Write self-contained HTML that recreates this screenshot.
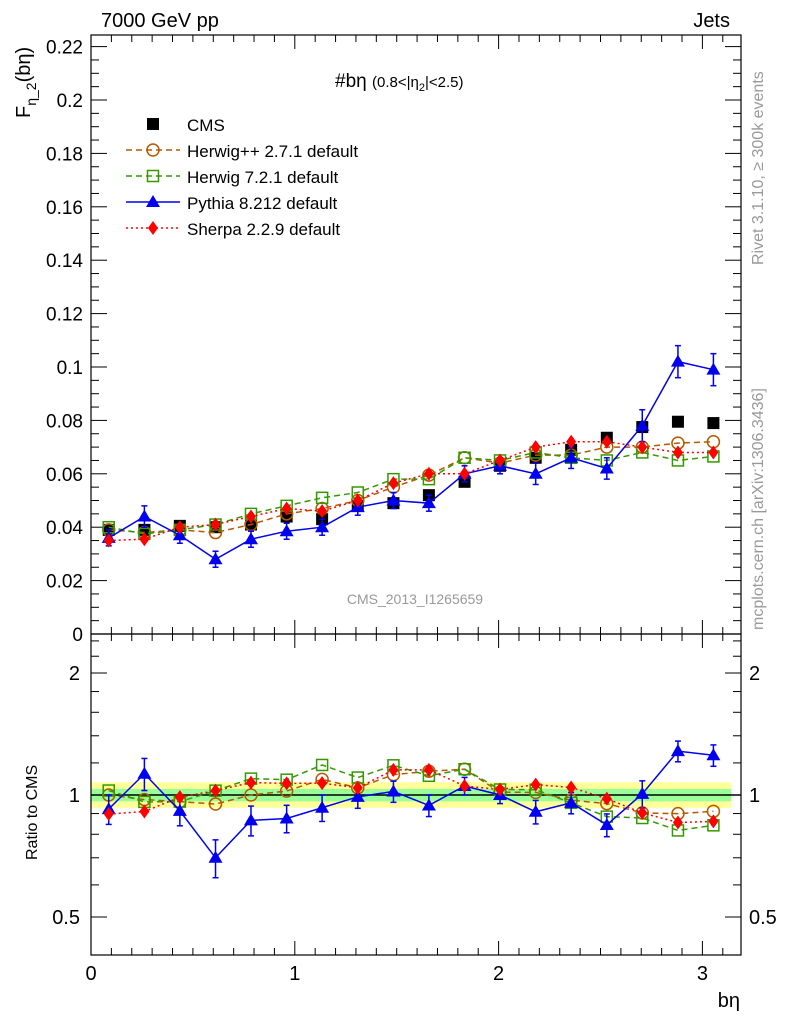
<!DOCTYPE html>
<html><head><meta charset="utf-8"><style>
body{margin:0;background:#fff;}
svg text{font-family:"Liberation Sans",sans-serif;}
</style></head><body>
<svg id="c" width="786" height="1024" xmlns="http://www.w3.org/2000/svg"></svg>
<script>
const binCenters=[0.087,0.262,0.436,0.611,0.785,0.960,1.134,1.309,1.484,1.658,1.833,2.007,2.182,2.356,2.531,2.705,2.880,3.054];
const cmsVals=[0.039,0.039,0.0405,0.040,0.041,0.044,0.043,0.048,0.049,0.052,0.057,0.063,0.066,0.069,0.0735,0.0775,0.0795,0.079];
const herwigppVals=[0.039,0.038,0.039,0.038,0.041,0.045,0.047,0.050,0.055,0.0595,0.066,0.064,0.067,0.067,0.070,0.070,0.0715,0.072];
const herwig7Vals=[0.040,0.0375,0.039,0.041,0.045,0.048,0.051,0.053,0.058,0.058,0.066,0.065,0.068,0.066,0.065,0.068,0.065,0.0665];
const pythiaVals=[0.036,0.044,0.037,0.028,0.0355,0.0385,0.040,0.0475,0.050,0.049,0.060,0.063,0.060,0.066,0.062,0.078,0.102,0.099];
const pythiaErr=[0.003,0.004,0.003,0.003,0.003,0.003,0.003,0.003,0.003,0.003,0.003,0.003,0.004,0.004,0.004,0.006,0.006,0.006];
const sherpaVals=[0.035,0.0355,0.040,0.041,0.044,0.047,0.046,0.050,0.0565,0.060,0.060,0.065,0.070,0.072,0.072,0.070,0.068,0.068];
const yTicks=[0,0.02,0.04,0.06,0.08,0.1,0.12,0.14,0.16,0.18,0.2,0.22];
const yTickLabels=["0","0.02","0.04","0.06","0.08","0.1","0.12","0.14","0.16","0.18","0.2","0.22"];
const xTicks=[0,1,2,3];
const rTicks=[0.5,1,2];
const rTickLabels=["0.5","1","2"];

const S=document.getElementById('c'),NS="http://www.w3.org/2000/svg";
function el(t,a,p){const e=document.createElementNS(NS,t);for(const k in a)e.setAttribute(k,a[k]);(p||S).appendChild(e);return e;}
const L=91,R=741,T=35,M=634,B=955;
const X=v=>L+v*203.8;
const Y=v=>634-v*2670;
const RY=v=>795-Math.log2(v)*122;
const W=0.1745;

// band
let bg=el('rect',{x:X(0),y:RY(1.075),width:X(3.142)-X(0),height:RY(0.93)-RY(1.075),fill:'#ffff99'});

let gg=el('rect',{x:X(0),y:RY(1.035),width:X(3.142)-X(0),height:RY(0.965)-RY(1.035),fill:'#99ff99'});

let one=el('line',{x1:L,x2:R,y1:RY(1),y2:RY(1),stroke:'#000','stroke-width':1.5});


// frames
for(const [y1,y2,n] of [[T,M,'main-frame'],[M,B,'ratio-frame']]){
 const f=el('rect',{x:L,y:y1,width:R-L,height:y2-y1,fill:'none',stroke:'#000','stroke-width':1.2});
 
}
// x ticks
for(let v=0;v<=3.14;v+=0.1){
 const major=Math.abs(v-Math.round(v))<1e-6;const l=major?14:7;
 for(const [y1,y2] of [[T,M],[M,B]]){
  el('line',{x1:X(v),x2:X(v),y1:y2,y2:y2-l,stroke:'#000'});
  el('line',{x1:X(v),x2:X(v),y1:y1,y2:y1+l,stroke:'#000'});
 }
}
xTicks.forEach(v=>{const t=el('text',{x:X(v),y:980,'font-size':20,'text-anchor':'middle'});t.textContent=v;
});
// y ticks main
for(let v=0;v<=0.2235;v+=0.005){
 const major=Math.abs(v/0.02-Math.round(v/0.02))<1e-6;const l=major?16:8;
 el('line',{x1:L,x2:L+l,y1:Y(v),y2:Y(v),stroke:'#000'});
 el('line',{x1:R,x2:R-l,y1:Y(v),y2:Y(v),stroke:'#000'});
}
yTicks.forEach((v,i)=>{const t=el('text',{x:83,y:Y(v)+7,'font-size':19,'text-anchor':'end'});t.textContent=yTickLabels[i];
});
// ratio ticks
[0.5,0.6,0.7,0.8,0.9,1,1.2,1.4,1.6,1.8,2,2.2,2.4].forEach(v=>{
 const major=rTicks.includes(v);const l=major?16:8;
 el('line',{x1:L,x2:L+l,y1:RY(v),y2:RY(v),stroke:'#000'});
 el('line',{x1:R,x2:R-l,y1:RY(v),y2:RY(v),stroke:'#000'});
});
rTicks.forEach((v,i)=>{
 const t=el('text',{x:80,y:RY(v)+7,'font-size':20,'text-anchor':'end'});t.textContent=rTickLabels[i];
 
 const t2=el('text',{x:749,y:RY(v)+7,'font-size':20});t2.textContent=rTickLabels[i];
 
});

function marker(type,x,y,col,g){
 if(type==='sq')el('rect',{x:x-6,y:y-6,width:12,height:12,fill:col},g);
 else if(type==='osq')el('rect',{x:x-5.5,y:y-5.5,width:11,height:11,fill:'none',stroke:col,'stroke-width':1.5},g);
 else if(type==='oc')el('circle',{cx:x,cy:y,r:6,fill:'none',stroke:col,'stroke-width':1.5},g);
 else if(type==='tri')el('polygon',{points:`${x},${y-7} ${x-7},${y+5} ${x+7},${y+5}`,fill:col},g);
 else if(type==='dia')el('polygon',{points:`${x},${y-7} ${x-5},${y} ${x},${y+7} ${x+5},${y}`,fill:col},g);
}
const series=[
 {name:'herwigpp',vals:herwigppVals,col:'#b35900',m:'oc',dash:'6,4',label:'Herwig++ 2.7.1 default'},
 {name:'herwig7',vals:herwig7Vals,col:'#339900',m:'osq',dash:'6,4',label:'Herwig 7.2.1 default'},
 {name:'pythia',vals:pythiaVals,col:'#0000ee',m:'tri',dash:'',label:'Pythia 8.212 default',err:pythiaErr},
 {name:'sherpa',vals:sherpaVals,col:'#ff0000',m:'dia',dash:'2,3',label:'Sherpa 2.2.9 default'}
];
// CMS main
const cg=el('g',{});
cmsVals.forEach((v,i)=>marker('sq',X(binCenters[i]),Y(v),'#000',cg));
series.forEach(s=>{
 for(const panel of ['main','ratio']){
  const g=el('g',{});
  const yf=panel==='main'?(v,i)=>Y(v):(v,i)=>RY(v/cmsVals[i]);
  const pts=s.vals.map((v,i)=>X(binCenters[i])+','+yf(v,i)).join(' ');
  el('polyline',{points:pts,fill:'none',stroke:s.col,'stroke-width':1.5,'stroke-dasharray':s.dash},g);
  if(s.err)s.vals.forEach((v,i)=>{const x=X(binCenters[i]);
   const y1=panel==='main'?Y(v+s.err[i]):RY((v+s.err[i])/cmsVals[i]);
   const y2=panel==='main'?Y(v-s.err[i]):RY((v-s.err[i])/cmsVals[i]);
   el('line',{x1:x,x2:x,y1:y1,y2:y2,stroke:s.col,'stroke-width':1.5},g);
   el('line',{x1:x-3,x2:x+3,y1:y1,y2:y1,stroke:s.col,'stroke-width':1.5},g);
   el('line',{x1:x-3,x2:x+3,y1:y2,y2:y2,stroke:s.col,'stroke-width':1.5},g);});
  s.vals.forEach((v,i)=>marker(s.m,X(binCenters[i]),yf(v,i),s.col,g));
 }
});
// legend
const lg=el('g',{});
marker('sq',153,124,'#000',lg);
let t=el('text',{x:187,y:131,'font-size':17},lg);t.textContent='CMS';
series.forEach((s,i)=>{const y=150+i*26;
 el('line',{x1:126,x2:180,y1:y,y2:y,stroke:s.col,'stroke-width':1.5,'stroke-dasharray':s.dash},lg);
 marker(s.m,153,y,s.col,lg);
 const tt=el('text',{x:187,y:y+7,'font-size':17},lg);tt.textContent=s.label;
 });
function txt(x,y,s,str,name,extra){const e=el('text',Object.assign({x:x,y:y,'font-size':s},extra||{}));e.innerHTML=str;
 return e;}
txt(101,27,20,'7000 GeV pp','title-left');
txt(730,27,20,'Jets','title-right',{'text-anchor':'end'});
txt(335,87,19,'#bη <tspan font-size="15">(0.8&lt;|η<tspan font-size="11" dy="4">2</tspan><tspan dy="-4">|&lt;2.5)</tspan></tspan>','plot-label');
txt(415,604,14,'CMS_2013_I1265659','analysis-id',{'text-anchor':'middle',fill:'#999'});
txt(740,1007,20,'bη','x-axis-title',{'text-anchor':'end'});
txt(0,0,20,'F<tspan font-size="14" dy="6">η_2</tspan><tspan dy="-6">(bη)</tspan>','y-axis-title',{transform:'translate(30,118) rotate(-90)'});
txt(0,0,16,'Ratio to CMS','ratio-axis-title',{transform:'translate(37,860) rotate(-90)'});
txt(0,0,16,'Rivet 3.1.10, ≥ 300k events','rivet-label',{transform:'translate(763,265) rotate(-90)',fill:'#999'});
txt(0,0,16,'mcplots.cern.ch [arXiv:1306.3436]','mcplots-label',{transform:'translate(763,630) rotate(-90)',fill:'#999'});
</script>
</body></html>
